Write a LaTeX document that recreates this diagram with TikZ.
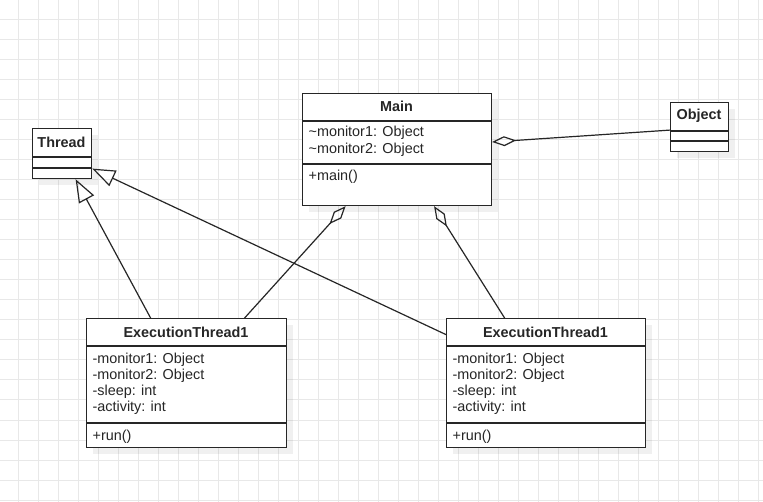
\documentclass[tikz,border=0pt]{standalone}
\usepackage{fontspec}
\setmainfont{Liberation Sans}
\usetikzlibrary{arrows.meta}
\definecolor{gridgray}{rgb}{0.91,0.91,0.91}
\definecolor{umlline}{rgb}{0.15,0.15,0.15}

\begin{document}
\begin{tikzpicture}[x=1pt, y=-1pt, line join=miter, line width=1.2pt,
    font=\fontsize{14.4}{16.4}\selectfont, text=umlline]

    \tikzstyle{cls}=[draw=umlline, fill=white, anchor=north west, inner sep=0pt]
    \tikzstyle{shade}=[fill=black, opacity=0.06]
    \tikzstyle{title}=[anchor=base, inner sep=0pt, font=\fontsize{14.4}{16.4}\selectfont\bfseries]
    % base of a multi-line node is the baseline of its last line
    \tikzstyle{members}=[anchor=base west, align=left, inner sep=0pt]
    \tikzstyle{inherit}=[draw=umlline, -{Triangle[open, length=23pt, width=17pt]}]
    \tikzstyle{aggr}=[draw=umlline, {Diamond[open, length=24pt, width=10pt]}-]

    % background grid
    \useasboundingbox (0,0) rectangle (763,502);
    \fill[white] (0,0) rectangle (763,502);
    \foreach \gx in {18,38,...,758}
      \draw[gridgray, line width=1pt] (\gx,0) -- (\gx,502);
    \foreach \gy in {20,40,...,500}
      \draw[gridgray, line width=1pt] (0,\gy) -- (763,\gy);

    % shadows
    \fill[shade] (309,100) rectangle (498,212);
    \fill[shade] (677,109) rectangle (735,158);
    \fill[shade] (39,135) rectangle (98,185);
    \fill[shade] (93,325) rectangle (293,454);
    \fill[shade] (453,325) rectangle (652,454);

    % classes
    \node[cls, minimum width=189pt, minimum height=112pt] (main) at (302,93) {};
    \draw[umlline] (302,121) -- (491,121) (302,164) -- (491,164);
    \node[title] (mainT) at (396.5,112) {Main};
    \node[members, font=\fontsize{14.4}{16.7}\selectfont] (mainA) at (308,153.7) {\textasciitilde monitor1: Object\\\textasciitilde monitor2: Object};
    \node[members] (mainM) at (308,181) {+main()};

    \node[cls, minimum width=58pt, minimum height=49pt] (object) at (670,102) {};
    \draw[umlline] (670,131) -- (728,131) (670,141) -- (728,141);
    \node[title] (objectT) at (699,120) {Object};

    \node[cls, minimum width=59pt, minimum height=50pt] (thread) at (32,128) {};
    \draw[umlline] (32,157) -- (91,157) (32,168) -- (91,168);
    \node[title] (threadT) at (61.5,148) {Thread};

    \node[cls, minimum width=200pt, minimum height=129pt] (execA) at (86,318) {};
    \draw[umlline] (86,346) -- (286,346) (86,423) -- (286,423);
    \node[title] (execAT) at (186,337.5) {ExecutionThread1};
    \node[members, font=\fontsize{14.4}{15.9}\selectfont] (execAA) at (92,411.7) {-monitor1: Object\\-monitor2: Object\\-sleep: int\\-activity: int};
    \node[members] (execAM) at (92,440) {+run()};

    \node[cls, minimum width=199pt, minimum height=129pt] (execB) at (446,318) {};
    \draw[umlline] (446,346) -- (645,346) (446,423) -- (645,423);
    \node[title] (execBT) at (545.5,337.5) {ExecutionThread1};
    \node[members, font=\fontsize{14.4}{15.9}\selectfont] (execBA) at (452,411.7) {-monitor1: Object\\-monitor2: Object\\-sleep: int\\-activity: int};
    \node[members] (execBM) at (452,440) {+run()};

    % relations
    \draw[aggr] ([yshift=-49pt]main.north east) -- ([yshift=-3pt]object.west);
    \draw[aggr] ([xshift=-51.5pt]main.south) -- ([xshift=58pt]execA.north);
    \draw[aggr] ([xshift=37pt]main.south) -- ([xshift=-41.5pt]execB.north);
    \draw[inherit] ([xshift=-36pt]execA.north) -- ([xshift=13.5pt]thread.south);
    \draw[inherit] ([yshift=48.5pt]execB.west) -- ([yshift=-15pt]thread.east);

\end{tikzpicture}
\end{document}
